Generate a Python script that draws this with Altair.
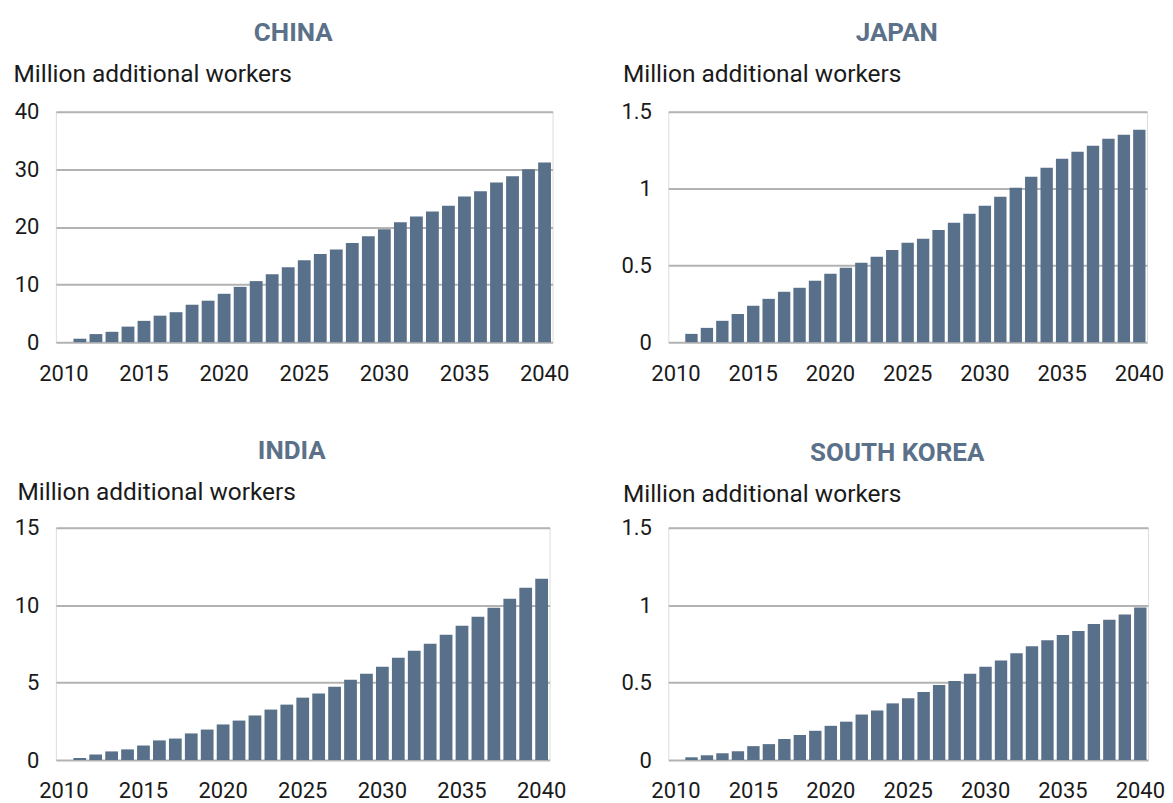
import altair as alt
import pandas as pd

years = list(range(2010, 2041))
x_labels = [2010, 2015, 2020, 2025, 2030, 2035, 2040]

china = [0, 0.6, 1.4, 1.8, 2.7, 3.7, 4.6, 5.2, 6.5, 7.2, 8.4, 9.6, 10.6, 11.8, 13.0, 14.2,
         15.3, 16.1, 17.2, 18.4, 19.6, 20.8, 21.8, 22.7, 23.7, 25.3, 26.2, 27.7, 28.8, 30.0, 31.2]
japan = [0, 0.054, 0.093, 0.139, 0.184, 0.237, 0.282, 0.328, 0.354, 0.40, 0.445, 0.484, 0.517,
         0.556, 0.60, 0.647, 0.673, 0.731, 0.777, 0.836, 0.888, 0.946, 1.005, 1.077, 1.135,
         1.194, 1.239, 1.278, 1.324, 1.35, 1.383]
india = [0, 0.13, 0.36, 0.56, 0.69, 0.94, 1.27, 1.39, 1.72, 1.97, 2.30, 2.55, 2.88, 3.26, 3.58,
         4.03, 4.29, 4.74, 5.19, 5.58, 6.03, 6.61, 7.06, 7.51, 8.09, 8.67, 9.25, 9.83, 10.41,
         11.12, 11.70]
korea = [0, 0.018, 0.031, 0.044, 0.057, 0.09, 0.103, 0.136, 0.162, 0.189, 0.221, 0.248, 0.294,
         0.32, 0.366, 0.399, 0.439, 0.485, 0.511, 0.557, 0.603, 0.643, 0.689, 0.735, 0.774,
         0.807, 0.833, 0.879, 0.906, 0.939, 0.985]

ticks_china = [0, 10, 20, 30, 40]
ticks_japan = [0, 0.5, 1, 1.5]
ticks_india = [0, 5, 10, 15]
ticks_korea = [0, 0.5, 1, 1.5]

BAR = "#587089"
TITLE_C = "#5b7189"
GRID = "#b3b3b3"
TEXT = "#1a1a1a"
FONT = "Roboto"
Y_TITLE = "Million additional workers"


def panel(name, values, ticks, width, height, title_x, title_y):
    df = pd.DataFrame({"year": years, "value": values})
    return (
        alt.Chart(
            df,
            title=alt.TitleParams(
                name, font=FONT, fontSize=26, fontWeight="bold", color=TITLE_C,
                anchor="middle", offset=16, dx=-11,
            ),
        )
        .mark_bar(color=BAR)
        .encode(
            x=alt.X(
                "year:O",
                scale=alt.Scale(paddingInner=0.2, paddingOuter=0.1),
                axis=alt.Axis(
                    values=x_labels, labelAngle=0, title=None, domain=False, ticks=False,
                    tickSize=0, labelPadding=21, labelFont=FONT, labelFontSize=22,
                    labelColor=TEXT, grid=False,
                ),
            ),
            y=alt.Y(
                "value:Q",
                scale=alt.Scale(domain=[ticks[0], ticks[-1]], nice=False),
                axis=alt.Axis(
                    values=ticks, labelExpr="toString(datum.value)", title=Y_TITLE,
                    titleAngle=0, titleAlign="left", titleBaseline="alphabetic",
                    titleX=title_x, titleY=title_y, titleFont=FONT, titleFontSize=24.5,
                    titleFontWeight="normal", titleColor=TEXT, domain=False, ticks=False,
                    tickSize=0, labelPadding=17, labelFont=FONT, labelFontSize=22,
                    labelColor=TEXT, grid=True, gridColor=GRID, gridWidth=2,
                ),
            ),
        )
        .properties(width=width, height=height)
    )


c1 = panel("CHINA", china, ticks_china, 498, 231, -43, -30)
c2 = panel("JAPAN", japan, ticks_japan, 480, 231, -46, -30)
c3 = panel("INDIA", india, ticks_india, 495, 233, -39, -28)
c4 = panel("SOUTH KOREA", korea, ticks_korea, 481, 233, -46, -26)

chart = (
    alt.concat(c1, c2, c3, c4, columns=2, spacing={"row": 186, "column": 116}, bounds="flush")
    .properties(padding={"left": 4, "top": 10, "right": 0, "bottom": 0})
    .configure_view(stroke=None)
    .configure(background="white")
)

chart.save("out.html", embed_options={"renderer": "svg", "actions": False})
